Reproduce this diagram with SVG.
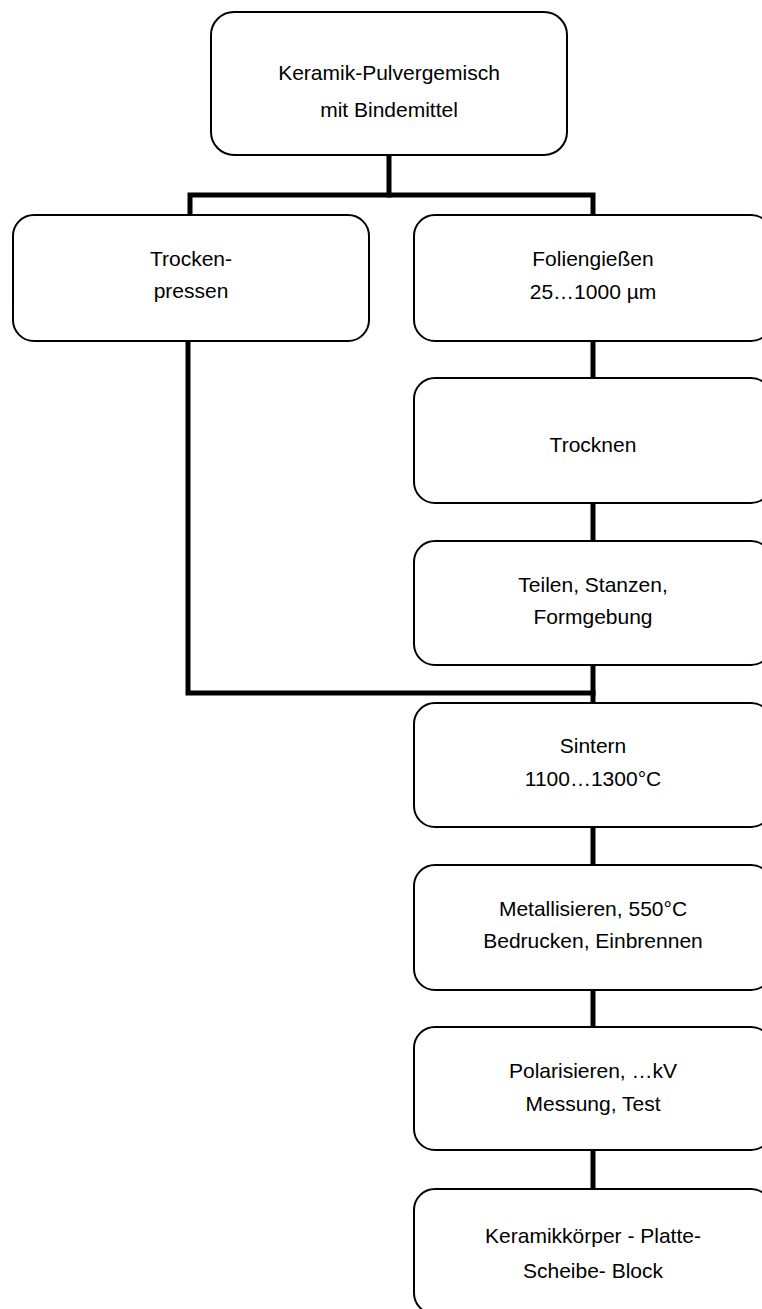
<svg xmlns="http://www.w3.org/2000/svg" width="762" height="1309" viewBox="0 0 762 1309">
<style>
.box{fill:#fff;stroke:#000;stroke-width:2}
.t{font-family:"Liberation Sans",Arial,sans-serif;font-size:21px;fill:#000;text-anchor:middle}
.c{fill:none;stroke:#000;stroke-width:5;stroke-linecap:square}
</style>
<rect width="762" height="1309" fill="#fff"/>
<g id="connectors">
<path class="c" d="M389,155 V195"/>
<path class="c" d="M190,215 V195 H593 V215"/>
<path class="c" d="M188,341 V693 H593"/>
<path class="c" d="M593,341 V378"/>
<path class="c" d="M593,503 V541"/>
<path class="c" d="M593,665 V703"/>
<path class="c" d="M593,827 V865"/>
<path class="c" d="M593,990 V1027"/>
<path class="c" d="M593,1150 V1189"/>
</g>
<g id="n-pulver"><rect class="box" x="211" y="12" width="356" height="143" rx="23"/><text class="t" x="389" y="80">Keramik-Pulvergemisch</text><text class="t" x="389" y="117">mit Bindemittel</text></g>
<g id="n-trockenpressen"><rect class="box" x="13" y="215" width="356" height="126" rx="21"/><text class="t" x="191" y="266">Trocken-</text><text class="t" x="191" y="298">pressen</text></g>
<g id="n-folien"><rect class="box" x="414" y="215" width="358" height="126" rx="21"/><text class="t" x="593" y="266">Foliengießen</text><text class="t" x="593" y="299">25…1000 µm</text></g>
<g id="n-trocknen"><rect class="box" x="414" y="378" width="358" height="125" rx="21"/><text class="t" x="593" y="452">Trocknen</text></g>
<g id="n-teilen"><rect class="box" x="414" y="541" width="358" height="124" rx="21"/><text class="t" x="593" y="592">Teilen, Stanzen,</text><text class="t" x="593" y="624">Formgebung</text></g>
<g id="n-sintern"><rect class="box" x="414" y="703" width="358" height="124" rx="21"/><text class="t" x="593" y="753">Sintern</text><text class="t" x="593" y="786">1100…1300°C</text></g>
<g id="n-metall"><rect class="box" x="414" y="865" width="358" height="125" rx="21"/><text class="t" x="593" y="916">Metallisieren, 550°C</text><text class="t" x="593" y="948">Bedrucken, Einbrennen</text></g>
<g id="n-polar"><rect class="box" x="414" y="1027" width="358" height="123" rx="21"/><text class="t" x="593" y="1078">Polarisieren, …kV</text><text class="t" x="593" y="1111">Messung, Test</text></g>
<g id="n-koerper"><rect class="box" x="414" y="1189" width="358" height="125" rx="21"/><text class="t" x="593" y="1243">Keramikkörper - Platte-</text><text class="t" x="593" y="1278">Scheibe- Block</text></g>
</svg>
